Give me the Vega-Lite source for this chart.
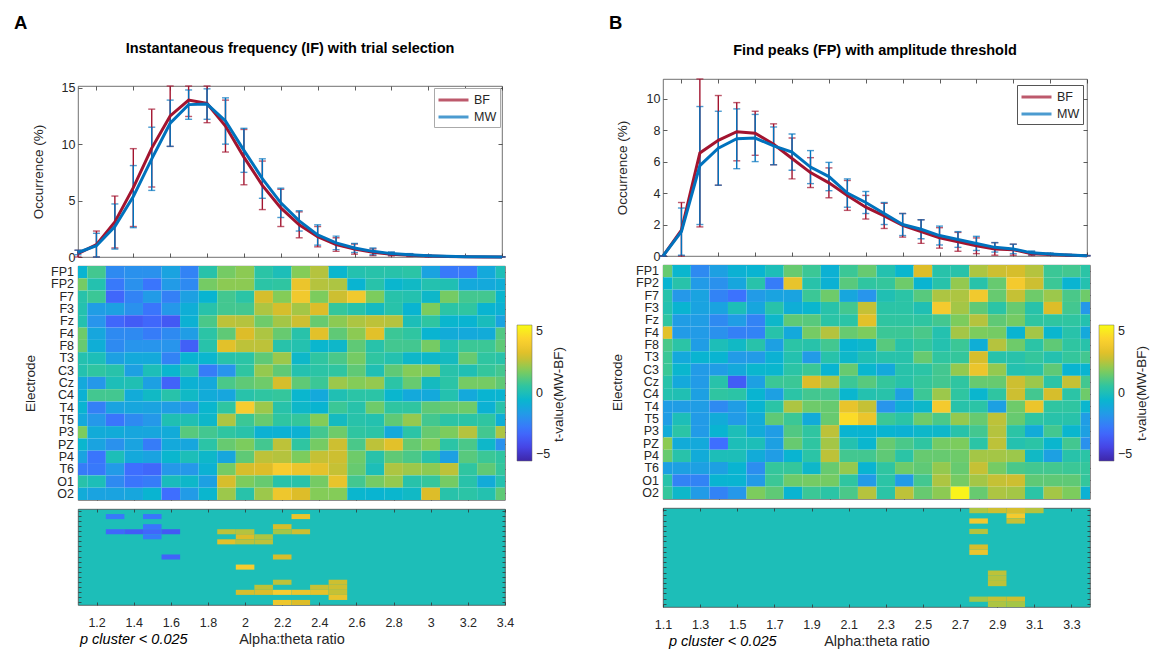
{
"$schema":"https://vega.github.io/schema/vega-lite/v6.json",
"padding":{"left":14,"top":13,"right":2,"bottom":2},
"background":"white",
"datasets":{
"lA":[
{"g":"BF","x":1.1,"m":0.3,"e":0.3},{"g":"BF","x":1.2,"m":1.1,"e":1.2},{"g":"BF","x":1.3,"m":3.1,"e":2.3},{"g":"BF","x":1.4,"m":6.15,"e":3.45},{"g":"BF","x":1.5,"m":9.65,"e":3.45},{"g":"BF","x":1.6,"m":12.5,"e":2.7},{"g":"BF","x":1.7,"m":13.9,"e":1.45},{"g":"BF","x":1.8,"m":13.6,"e":1.7},{"g":"BF","x":1.9,"m":11.6,"e":2.3},{"g":"BF","x":2,"m":8.85,"e":2.45},{"g":"BF","x":2.1,"m":6.35,"e":2.15},{"g":"BF","x":2.2,"m":4.35,"e":1.65},{"g":"BF","x":2.3,"m":2.85,"e":1.15},{"g":"BF","x":2.4,"m":1.8,"e":0.9},{"g":"BF","x":2.5,"m":1.1,"e":0.6},{"g":"BF","x":2.6,"m":0.7,"e":0.45},{"g":"BF","x":2.7,"m":0.42,"e":0.3},{"g":"BF","x":2.8,"m":0.25,"e":0.15},{"g":"BF","x":2.9,"m":0.15,"e":0.1},{"g":"BF","x":3,"m":0.08,"e":0.06},{"g":"BF","x":3.1,"m":0.04,"e":0.03},{"g":"BF","x":3.2,"m":0.02,"e":0.02},{"g":"BF","x":3.3,"m":0.01,"e":0.01},{"g":"BF","x":3.4,"m":0.01,"e":0.01},
{"g":"MW","x":1.1,"m":0.4,"e":0.2},{"g":"MW","x":1.2,"m":1.0,"e":1.1},{"g":"MW","x":1.3,"m":2.7,"e":2.0},{"g":"MW","x":1.4,"m":5.35,"e":2.75},{"g":"MW","x":1.5,"m":8.7,"e":2.8},{"g":"MW","x":1.6,"m":11.85,"e":2.05},{"g":"MW","x":1.7,"m":13.5,"e":1.3},{"g":"MW","x":1.8,"m":13.55,"e":1.35},{"g":"MW","x":1.9,"m":12.05,"e":2.05},{"g":"MW","x":2,"m":9.45,"e":1.95},{"g":"MW","x":2.1,"m":6.95,"e":1.75},{"g":"MW","x":2.2,"m":4.8,"e":1.3},{"g":"MW","x":2.3,"m":3.2,"e":0.9},{"g":"MW","x":2.4,"m":1.95,"e":0.9},{"g":"MW","x":2.5,"m":1.25,"e":0.6},{"g":"MW","x":2.6,"m":0.8,"e":0.4},{"g":"MW","x":2.7,"m":0.5,"e":0.3},{"g":"MW","x":2.8,"m":0.3,"e":0.15},{"g":"MW","x":2.9,"m":0.2,"e":0.1},{"g":"MW","x":3,"m":0.12,"e":0.06},{"g":"MW","x":3.1,"m":0.06,"e":0.04},{"g":"MW","x":3.2,"m":0.03,"e":0.02},{"g":"MW","x":3.3,"m":0.02,"e":0.01},{"g":"MW","x":3.4,"m":0.01,"e":0.01}
],
"lB":[
{"g":"BF","x":1.1,"m":0,"e":0},{"g":"BF","x":1.2,"m":1.65,"e":1.75},{"g":"BF","x":1.3,"m":6.55,"e":4.7},{"g":"BF","x":1.4,"m":7.35,"e":2.85},{"g":"BF","x":1.5,"m":7.9,"e":1.85},{"g":"BF","x":1.6,"m":7.8,"e":1.4},{"g":"BF","x":1.7,"m":7.1,"e":1.3},{"g":"BF","x":1.8,"m":6.2,"e":1.3},{"g":"BF","x":1.9,"m":5.3,"e":0.95},{"g":"BF","x":2,"m":4.65,"e":0.95},{"g":"BF","x":2.1,"m":3.85,"e":0.95},{"g":"BF","x":2.2,"m":3.1,"e":0.75},{"g":"BF","x":2.3,"m":2.55,"e":0.8},{"g":"BF","x":2.4,"m":1.95,"e":0.75},{"g":"BF","x":2.5,"m":1.55,"e":0.75},{"g":"BF","x":2.6,"m":1.15,"e":0.65},{"g":"BF","x":2.7,"m":0.9,"e":0.6},{"g":"BF","x":2.8,"m":0.65,"e":0.5},{"g":"BF","x":2.9,"m":0.45,"e":0.4},{"g":"BF","x":3,"m":0.4,"e":0.35},{"g":"BF","x":3.1,"m":0.15,"e":0.12},{"g":"BF","x":3.2,"m":0.1,"e":0.06},{"g":"BF","x":3.3,"m":0.05,"e":0.04},{"g":"BF","x":3.4,"m":0.02,"e":0.01},
{"g":"MW","x":1.1,"m":0,"e":0},{"g":"MW","x":1.2,"m":1.55,"e":1.5},{"g":"MW","x":1.3,"m":5.75,"e":3.75},{"g":"MW","x":1.4,"m":6.85,"e":2.35},{"g":"MW","x":1.5,"m":7.45,"e":1.9},{"g":"MW","x":1.6,"m":7.5,"e":1.5},{"g":"MW","x":1.7,"m":7.0,"e":1.2},{"g":"MW","x":1.8,"m":6.6,"e":1.15},{"g":"MW","x":1.9,"m":5.65,"e":1.05},{"g":"MW","x":2,"m":5.05,"e":0.9},{"g":"MW","x":2.1,"m":4.0,"e":0.9},{"g":"MW","x":2.2,"m":3.4,"e":0.7},{"g":"MW","x":2.3,"m":2.7,"e":0.7},{"g":"MW","x":2.4,"m":2.0,"e":0.7},{"g":"MW","x":2.5,"m":1.7,"e":0.6},{"g":"MW","x":2.6,"m":1.3,"e":0.6},{"g":"MW","x":2.7,"m":1.05,"e":0.5},{"g":"MW","x":2.8,"m":0.8,"e":0.45},{"g":"MW","x":2.9,"m":0.55,"e":0.3},{"g":"MW","x":3,"m":0.45,"e":0.3},{"g":"MW","x":3.1,"m":0.2,"e":0.12},{"g":"MW","x":3.2,"m":0.12,"e":0.06},{"g":"MW","x":3.3,"m":0.06,"e":0.04},{"g":"MW","x":3.4,"m":0.02,"e":0.01}
],
"hA":[
{"e":"FP1","x":1.1,"t":-0.6},{"e":"FP1","x":1.2,"t":0.8},{"e":"FP1","x":1.3,"t":-2},{"e":"FP1","x":1.4,"t":-1.8},{"e":"FP1","x":1.5,"t":-1.8},{"e":"FP1","x":1.6,"t":-1.2},{"e":"FP1","x":1.7,"t":-2.2},{"e":"FP1","x":1.8,"t":0.3},{"e":"FP1","x":1.9,"t":1.5},{"e":"FP1","x":2,"t":1.8},{"e":"FP1","x":2.1,"t":0.4},{"e":"FP1","x":2.2,"t":0},{"e":"FP1","x":2.3,"t":1.7},{"e":"FP1","x":2.4,"t":2.3},{"e":"FP1","x":2.5,"t":-0.5},{"e":"FP1","x":2.6,"t":0.2},{"e":"FP1","x":2.7,"t":0.3},{"e":"FP1","x":2.8,"t":0.3},{"e":"FP1","x":2.9,"t":0.4},{"e":"FP1","x":3,"t":-1.2},{"e":"FP1","x":3.1,"t":-2.5},{"e":"FP1","x":3.2,"t":-2.5},{"e":"FP1","x":3.3,"t":-1},{"e":"FP1","x":3.4,"t":0},
{"e":"FP2","x":1.1,"t":1.5},{"e":"FP2","x":1.2,"t":0.2},{"e":"FP2","x":1.3,"t":-2.5,"s":1},{"e":"FP2","x":1.4,"t":-1.8},{"e":"FP2","x":1.5,"t":-2.6,"s":1},{"e":"FP2","x":1.6,"t":-1.5},{"e":"FP2","x":1.7,"t":-2},{"e":"FP2","x":1.8,"t":1.5},{"e":"FP2","x":1.9,"t":1.8},{"e":"FP2","x":2,"t":1.8},{"e":"FP2","x":2.1,"t":0.4},{"e":"FP2","x":2.2,"t":0.5},{"e":"FP2","x":2.3,"t":3.3,"s":1},{"e":"FP2","x":2.4,"t":2.3},{"e":"FP2","x":2.5,"t":2.2},{"e":"FP2","x":2.6,"t":-0.6},{"e":"FP2","x":2.7,"t":0.3},{"e":"FP2","x":2.8,"t":-0.5},{"e":"FP2","x":2.9,"t":-0.3},{"e":"FP2","x":3,"t":0.2},{"e":"FP2","x":3.1,"t":0.1},{"e":"FP2","x":3.2,"t":-1},{"e":"FP2","x":3.3,"t":-1},{"e":"FP2","x":3.4,"t":-0.8},
{"e":"F7","x":1.1,"t":0.3},{"e":"F7","x":1.2,"t":0.7},{"e":"F7","x":1.3,"t":-3},{"e":"F7","x":1.4,"t":-2.2},{"e":"F7","x":1.5,"t":-1.5},{"e":"F7","x":1.6,"t":-2.3},{"e":"F7","x":1.7,"t":-1.3},{"e":"F7","x":1.8,"t":-0.6},{"e":"F7","x":1.9,"t":0.8},{"e":"F7","x":2,"t":0.4},{"e":"F7","x":2.1,"t":2.7},{"e":"F7","x":2.2,"t":1.7},{"e":"F7","x":2.3,"t":3.5},{"e":"F7","x":2.4,"t":1.6},{"e":"F7","x":2.5,"t":2.6},{"e":"F7","x":2.6,"t":3.5},{"e":"F7","x":2.7,"t":1.6},{"e":"F7","x":2.8,"t":0.3},{"e":"F7","x":2.9,"t":0.2},{"e":"F7","x":3,"t":-0.4},{"e":"F7","x":3.1,"t":1.5},{"e":"F7","x":3.2,"t":0.8},{"e":"F7","x":3.3,"t":0.8},{"e":"F7","x":3.4,"t":-0.5},
{"e":"F3","x":1.1,"t":0.2},{"e":"F3","x":1.2,"t":-1.4},{"e":"F3","x":1.3,"t":-1.3},{"e":"F3","x":1.4,"t":-1.8},{"e":"F3","x":1.5,"t":-2.6,"s":1},{"e":"F3","x":1.6,"t":-1.6},{"e":"F3","x":1.7,"t":-0.8},{"e":"F3","x":1.8,"t":0.3},{"e":"F3","x":1.9,"t":0.8},{"e":"F3","x":2,"t":0.8},{"e":"F3","x":2.1,"t":2.2},{"e":"F3","x":2.2,"t":2.7,"s":1},{"e":"F3","x":2.3,"t":2.1},{"e":"F3","x":2.4,"t":2.8},{"e":"F3","x":2.5,"t":0.6},{"e":"F3","x":2.6,"t":0.3},{"e":"F3","x":2.7,"t":-0.2},{"e":"F3","x":2.8,"t":0.3},{"e":"F3","x":2.9,"t":-0.6},{"e":"F3","x":3,"t":1.6},{"e":"F3","x":3.1,"t":0.4},{"e":"F3","x":3.2,"t":0.5},{"e":"F3","x":3.3,"t":-0.6},{"e":"F3","x":3.4,"t":-0.7},
{"e":"Fz","x":1.1,"t":0.2},{"e":"Fz","x":1.2,"t":-1.7},{"e":"Fz","x":1.3,"t":-3,"s":1},{"e":"Fz","x":1.4,"t":-3.3,"s":1},{"e":"Fz","x":1.5,"t":-3,"s":1},{"e":"Fz","x":1.6,"t":-3.4,"s":1},{"e":"Fz","x":1.7,"t":-0.7},{"e":"Fz","x":1.8,"t":0.9},{"e":"Fz","x":1.9,"t":2.4,"s":1},{"e":"Fz","x":2,"t":2.3,"s":1},{"e":"Fz","x":2.1,"t":1.4},{"e":"Fz","x":2.2,"t":2.1,"s":1},{"e":"Fz","x":2.3,"t":2.6,"s":1},{"e":"Fz","x":2.4,"t":1.3},{"e":"Fz","x":2.5,"t":1.8},{"e":"Fz","x":2.6,"t":2.2},{"e":"Fz","x":2.7,"t":2.4},{"e":"Fz","x":2.8,"t":2.3},{"e":"Fz","x":2.9,"t":0},{"e":"Fz","x":3,"t":0.5},{"e":"Fz","x":3.1,"t":-0.5},{"e":"Fz","x":3.2,"t":-0.6},{"e":"Fz","x":3.3,"t":-0.1},{"e":"Fz","x":3.4,"t":-1.2},
{"e":"F4","x":1.1,"t":1.4},{"e":"F4","x":1.2,"t":-1.1},{"e":"F4","x":1.3,"t":-2},{"e":"F4","x":1.4,"t":-2},{"e":"F4","x":1.5,"t":-2.4,"s":1},{"e":"F4","x":1.6,"t":-2},{"e":"F4","x":1.7,"t":-1.4},{"e":"F4","x":1.8,"t":0.4},{"e":"F4","x":1.9,"t":1.2},{"e":"F4","x":2,"t":2.8,"s":1},{"e":"F4","x":2.1,"t":2.2,"s":1},{"e":"F4","x":2.2,"t":1.3},{"e":"F4","x":2.3,"t":0.3},{"e":"F4","x":2.4,"t":3},{"e":"F4","x":2.5,"t":1.2},{"e":"F4","x":2.6,"t":1.8},{"e":"F4","x":2.7,"t":3},{"e":"F4","x":2.8,"t":0.7},{"e":"F4","x":2.9,"t":0.5},{"e":"F4","x":3,"t":-0.6},{"e":"F4","x":3.1,"t":-0.9},{"e":"F4","x":3.2,"t":-1},{"e":"F4","x":3.3,"t":-0.9},{"e":"F4","x":3.4,"t":1},
{"e":"F8","x":1.1,"t":1.3},{"e":"F8","x":1.2,"t":-0.8},{"e":"F8","x":1.3,"t":-2},{"e":"F8","x":1.4,"t":-1.7},{"e":"F8","x":1.5,"t":-1.7},{"e":"F8","x":1.6,"t":-1.7},{"e":"F8","x":1.7,"t":-3.2},{"e":"F8","x":1.8,"t":0.3},{"e":"F8","x":1.9,"t":3,"s":1},{"e":"F8","x":2,"t":2.4,"s":1},{"e":"F8","x":2.1,"t":2.4,"s":1},{"e":"F8","x":2.2,"t":0.3},{"e":"F8","x":2.3,"t":0.2},{"e":"F8","x":2.4,"t":-0.5},{"e":"F8","x":2.5,"t":-0.4},{"e":"F8","x":2.6,"t":1.2},{"e":"F8","x":2.7,"t":0.3},{"e":"F8","x":2.8,"t":0.8},{"e":"F8","x":2.9,"t":0.8},{"e":"F8","x":3,"t":1.5},{"e":"F8","x":3.1,"t":0.2},{"e":"F8","x":3.2,"t":0.7},{"e":"F8","x":3.3,"t":0.7},{"e":"F8","x":3.4,"t":1.2},
{"e":"T3","x":1.1,"t":0.2},{"e":"T3","x":1.2,"t":0},{"e":"T3","x":1.3,"t":-1.3},{"e":"T3","x":1.4,"t":-1},{"e":"T3","x":1.5,"t":-1},{"e":"T3","x":1.6,"t":-2.2},{"e":"T3","x":1.7,"t":-0.6},{"e":"T3","x":1.8,"t":-0.5},{"e":"T3","x":1.9,"t":0.3},{"e":"T3","x":2,"t":0.4},{"e":"T3","x":2.1,"t":1.2},{"e":"T3","x":2.2,"t":2},{"e":"T3","x":2.3,"t":-0.4},{"e":"T3","x":2.4,"t":0.5},{"e":"T3","x":2.5,"t":0.9},{"e":"T3","x":2.6,"t":1.5},{"e":"T3","x":2.7,"t":0.5},{"e":"T3","x":2.8,"t":0.2},{"e":"T3","x":2.9,"t":-0.4},{"e":"T3","x":3,"t":-0.4},{"e":"T3","x":3.1,"t":-0.2},{"e":"T3","x":3.2,"t":1.3},{"e":"T3","x":3.3,"t":0.5},{"e":"T3","x":3.4,"t":0.3},
{"e":"C3","x":1.1,"t":0.2},{"e":"C3","x":1.2,"t":0.5},{"e":"C3","x":1.3,"t":0.3},{"e":"C3","x":1.4,"t":-1.3},{"e":"C3","x":1.5,"t":0},{"e":"C3","x":1.6,"t":-0.5},{"e":"C3","x":1.7,"t":0.2},{"e":"C3","x":1.8,"t":-2.4},{"e":"C3","x":1.9,"t":-1.7},{"e":"C3","x":2,"t":0.5},{"e":"C3","x":2.1,"t":1.9},{"e":"C3","x":2.2,"t":1.2},{"e":"C3","x":2.3,"t":0.2},{"e":"C3","x":2.4,"t":0.4},{"e":"C3","x":2.5,"t":0.5},{"e":"C3","x":2.6,"t":1.2},{"e":"C3","x":2.7,"t":0.1},{"e":"C3","x":2.8,"t":1.2},{"e":"C3","x":2.9,"t":1.7},{"e":"C3","x":3,"t":1.7},{"e":"C3","x":3.1,"t":0.3},{"e":"C3","x":3.2,"t":0.1},{"e":"C3","x":3.3,"t":0.6},{"e":"C3","x":3.4,"t":0.8},
{"e":"Cz","x":1.1,"t":-1},{"e":"Cz","x":1.2,"t":-1.6},{"e":"Cz","x":1.3,"t":0},{"e":"Cz","x":1.4,"t":0.1},{"e":"Cz","x":1.5,"t":-1.3},{"e":"Cz","x":1.6,"t":-3.1,"s":1},{"e":"Cz","x":1.7,"t":-0.7},{"e":"Cz","x":1.8,"t":-1},{"e":"Cz","x":1.9,"t":0.9},{"e":"Cz","x":2,"t":1.2},{"e":"Cz","x":2.1,"t":1.4},{"e":"Cz","x":2.2,"t":2.7,"s":1},{"e":"Cz","x":2.3,"t":1.2},{"e":"Cz","x":2.4,"t":0.7},{"e":"Cz","x":2.5,"t":2},{"e":"Cz","x":2.6,"t":1.7},{"e":"Cz","x":2.7,"t":1.9},{"e":"Cz","x":2.8,"t":0.4},{"e":"Cz","x":2.9,"t":1.3},{"e":"Cz","x":3,"t":-0.2},{"e":"Cz","x":3.1,"t":0.4},{"e":"Cz","x":3.2,"t":1.5},{"e":"Cz","x":3.3,"t":1.5},{"e":"Cz","x":3.4,"t":1.2},
{"e":"C4","x":1.1,"t":-0.7},{"e":"C4","x":1.2,"t":0.8},{"e":"C4","x":1.3,"t":0.8},{"e":"C4","x":1.4,"t":-0.9},{"e":"C4","x":1.5,"t":-0.3},{"e":"C4","x":1.6,"t":0.3},{"e":"C4","x":1.7,"t":-0.3},{"e":"C4","x":1.8,"t":-0.9},{"e":"C4","x":1.9,"t":-1.1},{"e":"C4","x":2,"t":0.3},{"e":"C4","x":2.1,"t":0.5},{"e":"C4","x":2.2,"t":0.6},{"e":"C4","x":2.3,"t":-0.5},{"e":"C4","x":2.4,"t":-1},{"e":"C4","x":2.5,"t":0.1},{"e":"C4","x":2.6,"t":0.4},{"e":"C4","x":2.7,"t":0.4},{"e":"C4","x":2.8,"t":-0.5},{"e":"C4","x":2.9,"t":-1},{"e":"C4","x":3,"t":-1},{"e":"C4","x":3.1,"t":0.2},{"e":"C4","x":3.2,"t":-1},{"e":"C4","x":3.3,"t":-0.6},{"e":"C4","x":3.4,"t":-0.6},
{"e":"T4","x":1.1,"t":-0.6},{"e":"T4","x":1.2,"t":-2.3},{"e":"T4","x":1.3,"t":-1.2},{"e":"T4","x":1.4,"t":-1.1},{"e":"T4","x":1.5,"t":-1.2},{"e":"T4","x":1.6,"t":-1.4},{"e":"T4","x":1.7,"t":-1.7},{"e":"T4","x":1.8,"t":-0.5},{"e":"T4","x":1.9,"t":0.5},{"e":"T4","x":2,"t":3.7,"s":1},{"e":"T4","x":2.1,"t":2},{"e":"T4","x":2.2,"t":0.3},{"e":"T4","x":2.3,"t":-0.4},{"e":"T4","x":2.4,"t":-0.6},{"e":"T4","x":2.5,"t":0.7},{"e":"T4","x":2.6,"t":0.3},{"e":"T4","x":2.7,"t":1.4},{"e":"T4","x":2.8,"t":0.5},{"e":"T4","x":2.9,"t":0.5},{"e":"T4","x":3,"t":1.2},{"e":"T4","x":3.1,"t":1.3},{"e":"T4","x":3.2,"t":1.4},{"e":"T4","x":3.3,"t":-0.7},{"e":"T4","x":3.4,"t":0.3},
{"e":"T5","x":1.1,"t":-1},{"e":"T5","x":1.2,"t":-1.6},{"e":"T5","x":1.3,"t":-2.6},{"e":"T5","x":1.4,"t":-2},{"e":"T5","x":1.5,"t":-1.6},{"e":"T5","x":1.6,"t":0.1},{"e":"T5","x":1.7,"t":0.1},{"e":"T5","x":1.8,"t":-0.4},{"e":"T5","x":1.9,"t":2.2},{"e":"T5","x":2,"t":0.7},{"e":"T5","x":2.1,"t":1.3},{"e":"T5","x":2.2,"t":0.5},{"e":"T5","x":2.3,"t":0.6},{"e":"T5","x":2.4,"t":1.7},{"e":"T5","x":2.5,"t":-0.2},{"e":"T5","x":2.6,"t":0.3},{"e":"T5","x":2.7,"t":0.2},{"e":"T5","x":2.8,"t":1.2},{"e":"T5","x":2.9,"t":1.9},{"e":"T5","x":3,"t":0.8},{"e":"T5","x":3.1,"t":0.4},{"e":"T5","x":3.2,"t":0.4},{"e":"T5","x":3.3,"t":0.5},{"e":"T5","x":3.4,"t":-0.8},
{"e":"P3","x":1.1,"t":1.6},{"e":"P3","x":1.2,"t":-0.9},{"e":"P3","x":1.3,"t":-0.9},{"e":"P3","x":1.4,"t":-1.1},{"e":"P3","x":1.5,"t":-1.1},{"e":"P3","x":1.6,"t":-0.9},{"e":"P3","x":1.7,"t":1.1},{"e":"P3","x":1.8,"t":0.8},{"e":"P3","x":1.9,"t":0.5},{"e":"P3","x":2,"t":0.3},{"e":"P3","x":2.1,"t":-0.7},{"e":"P3","x":2.2,"t":-0.7},{"e":"P3","x":2.3,"t":-0.7},{"e":"P3","x":2.4,"t":0.8},{"e":"P3","x":2.5,"t":1.4},{"e":"P3","x":2.6,"t":0.5},{"e":"P3","x":2.7,"t":0.4},{"e":"P3","x":2.8,"t":-1},{"e":"P3","x":2.9,"t":0.4},{"e":"P3","x":3,"t":1.3},{"e":"P3","x":3.1,"t":1.6},{"e":"P3","x":3.2,"t":2.3},{"e":"P3","x":3.3,"t":0.8},{"e":"P3","x":3.4,"t":2.2},
{"e":"PZ","x":1.1,"t":-0.5},{"e":"PZ","x":1.2,"t":-1.2},{"e":"PZ","x":1.3,"t":-1.8},{"e":"PZ","x":1.4,"t":-1.2},{"e":"PZ","x":1.5,"t":-2.4},{"e":"PZ","x":1.6,"t":-1},{"e":"PZ","x":1.7,"t":-1.1},{"e":"PZ","x":1.8,"t":0.4},{"e":"PZ","x":1.9,"t":1.3},{"e":"PZ","x":2,"t":1.6},{"e":"PZ","x":2.1,"t":0.8},{"e":"PZ","x":2.2,"t":2.4,"s":1},{"e":"PZ","x":2.3,"t":0.5},{"e":"PZ","x":2.4,"t":1.5},{"e":"PZ","x":2.5,"t":2.6,"s":1},{"e":"PZ","x":2.6,"t":0.9},{"e":"PZ","x":2.7,"t":2.4},{"e":"PZ","x":2.8,"t":3},{"e":"PZ","x":2.9,"t":1.3},{"e":"PZ","x":3,"t":1.7},{"e":"PZ","x":3.1,"t":0.4},{"e":"PZ","x":3.2,"t":0.9},{"e":"PZ","x":3.3,"t":-0.4},{"e":"PZ","x":3.4,"t":-1.8},
{"e":"P4","x":1.1,"t":-1.2},{"e":"P4","x":1.2,"t":-2.6},{"e":"P4","x":1.3,"t":0},{"e":"P4","x":1.4,"t":-1},{"e":"P4","x":1.5,"t":-1.2},{"e":"P4","x":1.6,"t":-0.5},{"e":"P4","x":1.7,"t":0},{"e":"P4","x":1.8,"t":-0.4},{"e":"P4","x":1.9,"t":-1.1},{"e":"P4","x":2,"t":1.2},{"e":"P4","x":2.1,"t":2.4,"s":1},{"e":"P4","x":2.2,"t":2.3},{"e":"P4","x":2.3,"t":1.6},{"e":"P4","x":2.4,"t":2.5,"s":1},{"e":"P4","x":2.5,"t":2.6,"s":1},{"e":"P4","x":2.6,"t":1.4},{"e":"P4","x":2.7,"t":0.3},{"e":"P4","x":2.8,"t":1.2},{"e":"P4","x":2.9,"t":0.9},{"e":"P4","x":3,"t":0.3},{"e":"P4","x":3.1,"t":-1.3},{"e":"P4","x":3.2,"t":1.1},{"e":"P4","x":3.3,"t":0.7},{"e":"P4","x":3.4,"t":0.5},
{"e":"T6","x":1.1,"t":-2.4},{"e":"T6","x":1.2,"t":-2.5},{"e":"T6","x":1.3,"t":-1.5},{"e":"T6","x":1.4,"t":-2.8},{"e":"T6","x":1.5,"t":-3},{"e":"T6","x":1.6,"t":-1.6},{"e":"T6","x":1.7,"t":-1.6},{"e":"T6","x":1.8,"t":-0.7},{"e":"T6","x":1.9,"t":1.5},{"e":"T6","x":2,"t":2.7,"s":1},{"e":"T6","x":2.1,"t":2.8,"s":1},{"e":"T6","x":2.2,"t":3.7,"s":1},{"e":"T6","x":2.3,"t":3.3,"s":1},{"e":"T6","x":2.4,"t":3.1,"s":1},{"e":"T6","x":2.5,"t":2.5,"s":1},{"e":"T6","x":2.6,"t":1.3},{"e":"T6","x":2.7,"t":0},{"e":"T6","x":2.8,"t":2.2},{"e":"T6","x":2.9,"t":2},{"e":"T6","x":3,"t":1.8},{"e":"T6","x":3.1,"t":2.4},{"e":"T6","x":3.2,"t":0.5},{"e":"T6","x":3.3,"t":1.2},{"e":"T6","x":3.4,"t":0.6},
{"e":"O1","x":1.1,"t":0.3},{"e":"O1","x":1.2,"t":0},{"e":"O1","x":1.3,"t":-2},{"e":"O1","x":1.4,"t":-2.6},{"e":"O1","x":1.5,"t":-2.4},{"e":"O1","x":1.6,"t":-0.1},{"e":"O1","x":1.7,"t":-0.4},{"e":"O1","x":1.8,"t":-1.3},{"e":"O1","x":1.9,"t":2.7},{"e":"O1","x":2,"t":1.6},{"e":"O1","x":2.1,"t":1.3},{"e":"O1","x":2.2,"t":0.3},{"e":"O1","x":2.3,"t":0.3},{"e":"O1","x":2.4,"t":1.5},{"e":"O1","x":2.5,"t":3.2,"s":1},{"e":"O1","x":2.6,"t":0.8},{"e":"O1","x":2.7,"t":1.5},{"e":"O1","x":2.8,"t":1.9},{"e":"O1","x":2.9,"t":0.3},{"e":"O1","x":3,"t":0.6},{"e":"O1","x":3.1,"t":1.5},{"e":"O1","x":3.2,"t":0.3},{"e":"O1","x":3.3,"t":-0.9},{"e":"O1","x":3.4,"t":0.2},
{"e":"O2","x":1.1,"t":-0.9},{"e":"O2","x":1.2,"t":-1.2},{"e":"O2","x":1.3,"t":-1.2},{"e":"O2","x":1.4,"t":-1.1},{"e":"O2","x":1.5,"t":-0.6},{"e":"O2","x":1.6,"t":-2.8},{"e":"O2","x":1.7,"t":-1.5},{"e":"O2","x":1.8,"t":-0.5},{"e":"O2","x":1.9,"t":2},{"e":"O2","x":2,"t":0.3},{"e":"O2","x":2.1,"t":2},{"e":"O2","x":2.2,"t":3.4,"s":1},{"e":"O2","x":2.3,"t":2.8,"s":1},{"e":"O2","x":2.4,"t":1.7},{"e":"O2","x":2.5,"t":1.7},{"e":"O2","x":2.6,"t":-0.5},{"e":"O2","x":2.7,"t":-0.6},{"e":"O2","x":2.8,"t":-0.5},{"e":"O2","x":2.9,"t":-0.3},{"e":"O2","x":3,"t":2.8},{"e":"O2","x":3.1,"t":0.3},{"e":"O2","x":3.2,"t":0.4},{"e":"O2","x":3.3,"t":0.2},{"e":"O2","x":3.4,"t":1.2}
],
"hB":[
{"e":"FP1","x":1.1,"t":1.3},{"e":"FP1","x":1.2,"t":-0.5},{"e":"FP1","x":1.3,"t":-2},{"e":"FP1","x":1.4,"t":-1.3},{"e":"FP1","x":1.5,"t":-0.7},{"e":"FP1","x":1.6,"t":-0.6},{"e":"FP1","x":1.7,"t":0},{"e":"FP1","x":1.8,"t":1.3},{"e":"FP1","x":1.9,"t":0.7},{"e":"FP1","x":2,"t":-0.7},{"e":"FP1","x":2.1,"t":0.7},{"e":"FP1","x":2.2,"t":1.3},{"e":"FP1","x":2.3,"t":0.2},{"e":"FP1","x":2.4,"t":-0.5},{"e":"FP1","x":2.5,"t":2.8},{"e":"FP1","x":2.6,"t":0.3},{"e":"FP1","x":2.7,"t":0.3},{"e":"FP1","x":2.8,"t":2.2,"s":1},{"e":"FP1","x":2.9,"t":2.6,"s":1},{"e":"FP1","x":3,"t":2.7,"s":1},{"e":"FP1","x":3.1,"t":2.3,"s":1},{"e":"FP1","x":3.2,"t":0.7},{"e":"FP1","x":3.3,"t":0.8},{"e":"FP1","x":3.4,"t":0.4},
{"e":"FP2","x":1.1,"t":-0.6},{"e":"FP2","x":1.2,"t":0.3},{"e":"FP2","x":1.3,"t":-1.5},{"e":"FP2","x":1.4,"t":-1.8},{"e":"FP2","x":1.5,"t":-1.1},{"e":"FP2","x":1.6,"t":0.3},{"e":"FP2","x":1.7,"t":-2.4},{"e":"FP2","x":1.8,"t":3.2},{"e":"FP2","x":1.9,"t":0.3},{"e":"FP2","x":2,"t":-0.7},{"e":"FP2","x":2.1,"t":1.1},{"e":"FP2","x":2.2,"t":0.5},{"e":"FP2","x":2.3,"t":0.6},{"e":"FP2","x":2.4,"t":1.4},{"e":"FP2","x":2.5,"t":-0.6},{"e":"FP2","x":2.6,"t":0.3},{"e":"FP2","x":2.7,"t":1.9},{"e":"FP2","x":2.8,"t":0.3},{"e":"FP2","x":2.9,"t":1.3},{"e":"FP2","x":3,"t":3.6,"s":1},{"e":"FP2","x":3.1,"t":2.6},{"e":"FP2","x":3.2,"t":0.7},{"e":"FP2","x":3.3,"t":-0.6},{"e":"FP2","x":3.4,"t":0.2},
{"e":"F7","x":1.1,"t":0.3},{"e":"F7","x":1.2,"t":-1.6},{"e":"F7","x":1.3,"t":-1.2},{"e":"F7","x":1.4,"t":-2.2},{"e":"F7","x":1.5,"t":-2.7},{"e":"F7","x":1.6,"t":-1.5},{"e":"F7","x":1.7,"t":-1.2},{"e":"F7","x":1.8,"t":-1.2},{"e":"F7","x":1.9,"t":0.7},{"e":"F7","x":2,"t":1.4},{"e":"F7","x":2.1,"t":-1.1},{"e":"F7","x":2.2,"t":-1.7},{"e":"F7","x":2.3,"t":0.1},{"e":"F7","x":2.4,"t":0.4},{"e":"F7","x":2.5,"t":1.1},{"e":"F7","x":2.6,"t":2.2},{"e":"F7","x":2.7,"t":2.2},{"e":"F7","x":2.8,"t":3.5,"s":1},{"e":"F7","x":2.9,"t":1.3},{"e":"F7","x":3,"t":2.5,"s":1},{"e":"F7","x":3.1,"t":1.4},{"e":"F7","x":3.2,"t":2},{"e":"F7","x":3.3,"t":0.9},{"e":"F7","x":3.4,"t":1.4},
{"e":"F3","x":1.1,"t":0.2},{"e":"F3","x":1.2,"t":-0.6},{"e":"F3","x":1.3,"t":-1.2},{"e":"F3","x":1.4,"t":-1.2},{"e":"F3","x":1.5,"t":0},{"e":"F3","x":1.6,"t":-1.1},{"e":"F3","x":1.7,"t":0.3},{"e":"F3","x":1.8,"t":-0.8},{"e":"F3","x":1.9,"t":-0.5},{"e":"F3","x":2,"t":0.3},{"e":"F3","x":2.1,"t":0.8},{"e":"F3","x":2.2,"t":2.5},{"e":"F3","x":2.3,"t":0.4},{"e":"F3","x":2.4,"t":0.4},{"e":"F3","x":2.5,"t":0.1},{"e":"F3","x":2.6,"t":3.6},{"e":"F3","x":2.7,"t":2.1},{"e":"F3","x":2.8,"t":1.2},{"e":"F3","x":2.9,"t":0.4},{"e":"F3","x":3,"t":1.3},{"e":"F3","x":3.1,"t":0.3},{"e":"F3","x":3.2,"t":2.8},{"e":"F3","x":3.3,"t":0.8},{"e":"F3","x":3.4,"t":-1.6},
{"e":"Fz","x":1.1,"t":0.5},{"e":"Fz","x":1.2,"t":-1.4},{"e":"Fz","x":1.3,"t":-1.4},{"e":"Fz","x":1.4,"t":-2},{"e":"Fz","x":1.5,"t":-1.4},{"e":"Fz","x":1.6,"t":-2.2},{"e":"Fz","x":1.7,"t":-0.4},{"e":"Fz","x":1.8,"t":1.2},{"e":"Fz","x":1.9,"t":1.1},{"e":"Fz","x":2,"t":0.4},{"e":"Fz","x":2.1,"t":0.4},{"e":"Fz","x":2.2,"t":3},{"e":"Fz","x":2.3,"t":0.5},{"e":"Fz","x":2.4,"t":0.5},{"e":"Fz","x":2.5,"t":0.5},{"e":"Fz","x":2.6,"t":0.8},{"e":"Fz","x":2.7,"t":1.6},{"e":"Fz","x":2.8,"t":2.3,"s":1},{"e":"Fz","x":2.9,"t":1.2},{"e":"Fz","x":3,"t":1.5},{"e":"Fz","x":3.1,"t":0.5},{"e":"Fz","x":3.2,"t":0.5},{"e":"Fz","x":3.3,"t":0.5},{"e":"Fz","x":3.4,"t":0.2},
{"e":"F4","x":1.1,"t":3},{"e":"F4","x":1.2,"t":-1.5},{"e":"F4","x":1.3,"t":-1.5},{"e":"F4","x":1.4,"t":-1.8},{"e":"F4","x":1.5,"t":-2.3},{"e":"F4","x":1.6,"t":-2.2},{"e":"F4","x":1.7,"t":0.3},{"e":"F4","x":1.8,"t":-1},{"e":"F4","x":1.9,"t":1.5},{"e":"F4","x":2,"t":2.3},{"e":"F4","x":2.1,"t":1.3},{"e":"F4","x":2.2,"t":1.6},{"e":"F4","x":2.3,"t":0.7},{"e":"F4","x":2.4,"t":0.7},{"e":"F4","x":2.5,"t":0.9},{"e":"F4","x":2.6,"t":0.2},{"e":"F4","x":2.7,"t":2.1},{"e":"F4","x":2.8,"t":1.6},{"e":"F4","x":2.9,"t":1.5},{"e":"F4","x":3,"t":-0.6},{"e":"F4","x":3.1,"t":2.1},{"e":"F4","x":3.2,"t":-0.5},{"e":"F4","x":3.3,"t":0.3},{"e":"F4","x":3.4,"t":-1},
{"e":"F8","x":1.1,"t":0.9},{"e":"F8","x":1.2,"t":0.4},{"e":"F8","x":1.3,"t":-1.4},{"e":"F8","x":1.4,"t":0},{"e":"F8","x":1.5,"t":-0.3},{"e":"F8","x":1.6,"t":0.3},{"e":"F8","x":1.7,"t":-1.3},{"e":"F8","x":1.8,"t":0.4},{"e":"F8","x":1.9,"t":0.3},{"e":"F8","x":2,"t":0.8},{"e":"F8","x":2.1,"t":-0.6},{"e":"F8","x":2.2,"t":-0.4},{"e":"F8","x":2.3,"t":1.1},{"e":"F8","x":2.4,"t":0.3},{"e":"F8","x":2.5,"t":0.6},{"e":"F8","x":2.6,"t":0.2},{"e":"F8","x":2.7,"t":0.7},{"e":"F8","x":2.8,"t":-0.8},{"e":"F8","x":2.9,"t":2.3},{"e":"F8","x":3,"t":1.4},{"e":"F8","x":3.1,"t":0.4},{"e":"F8","x":3.2,"t":1.2},{"e":"F8","x":3.3,"t":0.5},{"e":"F8","x":3.4,"t":0.3},
{"e":"T3","x":1.1,"t":0.7},{"e":"T3","x":1.2,"t":-1},{"e":"T3","x":1.3,"t":-0.6},{"e":"T3","x":1.4,"t":-0.6},{"e":"T3","x":1.5,"t":-1.5},{"e":"T3","x":1.6,"t":-1.5},{"e":"T3","x":1.7,"t":-0.7},{"e":"T3","x":1.8,"t":0.2},{"e":"T3","x":1.9,"t":-1.5},{"e":"T3","x":2,"t":0.3},{"e":"T3","x":2.1,"t":-0.4},{"e":"T3","x":2.2,"t":0.1},{"e":"T3","x":2.3,"t":0.3},{"e":"T3","x":2.4,"t":0.3},{"e":"T3","x":2.5,"t":1.3},{"e":"T3","x":2.6,"t":0.5},{"e":"T3","x":2.7,"t":0.6},{"e":"T3","x":2.8,"t":2.7,"s":1},{"e":"T3","x":2.9,"t":0.3},{"e":"T3","x":3,"t":0.3},{"e":"T3","x":3.1,"t":0.6},{"e":"T3","x":3.2,"t":0.2},{"e":"T3","x":3.3,"t":0.6},{"e":"T3","x":3.4,"t":0.8},
{"e":"C3","x":1.1,"t":0.7},{"e":"C3","x":1.2,"t":-0.5},{"e":"C3","x":1.3,"t":-1.5},{"e":"C3","x":1.4,"t":-1.4},{"e":"C3","x":1.5,"t":-1},{"e":"C3","x":1.6,"t":-0.5},{"e":"C3","x":1.7,"t":-0.5},{"e":"C3","x":1.8,"t":0.4},{"e":"C3","x":1.9,"t":0.7},{"e":"C3","x":2,"t":-0.6},{"e":"C3","x":2.1,"t":1.3},{"e":"C3","x":2.2,"t":-0.5},{"e":"C3","x":2.3,"t":-1},{"e":"C3","x":2.4,"t":0.3},{"e":"C3","x":2.5,"t":0.4},{"e":"C3","x":2.6,"t":0.8},{"e":"C3","x":2.7,"t":1.9},{"e":"C3","x":2.8,"t":3.3,"s":1},{"e":"C3","x":2.9,"t":1.9},{"e":"C3","x":3,"t":0.2},{"e":"C3","x":3.1,"t":0.3},{"e":"C3","x":3.2,"t":1.2},{"e":"C3","x":3.3,"t":-0.6},{"e":"C3","x":3.4,"t":-0.6},
{"e":"Cz","x":1.1,"t":0.3},{"e":"Cz","x":1.2,"t":-1},{"e":"Cz","x":1.3,"t":-1.5},{"e":"Cz","x":1.4,"t":0.3},{"e":"Cz","x":1.5,"t":-3.3},{"e":"Cz","x":1.6,"t":-1.3},{"e":"Cz","x":1.7,"t":0.7},{"e":"Cz","x":1.8,"t":0.7},{"e":"Cz","x":1.9,"t":2.8},{"e":"Cz","x":2,"t":2.2},{"e":"Cz","x":2.1,"t":0.7},{"e":"Cz","x":2.2,"t":1.1},{"e":"Cz","x":2.3,"t":0.6},{"e":"Cz","x":2.4,"t":0.3},{"e":"Cz","x":2.5,"t":0.6},{"e":"Cz","x":2.6,"t":0.8},{"e":"Cz","x":2.7,"t":0.5},{"e":"Cz","x":2.8,"t":1.3},{"e":"Cz","x":2.9,"t":1.3},{"e":"Cz","x":3,"t":2.6},{"e":"Cz","x":3.1,"t":2},{"e":"Cz","x":3.2,"t":0.4},{"e":"Cz","x":3.3,"t":2.5},{"e":"Cz","x":3.4,"t":0.8},
{"e":"C4","x":1.1,"t":0.2},{"e":"C4","x":1.2,"t":0.1},{"e":"C4","x":1.3,"t":-1.3},{"e":"C4","x":1.4,"t":0.5},{"e":"C4","x":1.5,"t":0.4},{"e":"C4","x":1.6,"t":-0.6},{"e":"C4","x":1.7,"t":-1.3},{"e":"C4","x":1.8,"t":0.4},{"e":"C4","x":1.9,"t":0.8},{"e":"C4","x":2,"t":0.8},{"e":"C4","x":2.1,"t":-0.5},{"e":"C4","x":2.2,"t":0.2},{"e":"C4","x":2.3,"t":0.3},{"e":"C4","x":2.4,"t":-1.3},{"e":"C4","x":2.5,"t":0.7},{"e":"C4","x":2.6,"t":2},{"e":"C4","x":2.7,"t":0.5},{"e":"C4","x":2.8,"t":-0.5},{"e":"C4","x":2.9,"t":0.5},{"e":"C4","x":3,"t":2.6},{"e":"C4","x":3.1,"t":0.8},{"e":"C4","x":3.2,"t":2.7},{"e":"C4","x":3.3,"t":0.4},{"e":"C4","x":3.4,"t":1.4},
{"e":"T4","x":1.1,"t":-1.4},{"e":"T4","x":1.2,"t":-1.4},{"e":"T4","x":1.3,"t":-1.4},{"e":"T4","x":1.4,"t":-2},{"e":"T4","x":1.5,"t":-1.4},{"e":"T4","x":1.6,"t":-0.6},{"e":"T4","x":1.7,"t":0.4},{"e":"T4","x":1.8,"t":2.2},{"e":"T4","x":1.9,"t":1.4},{"e":"T4","x":2,"t":1.3},{"e":"T4","x":2.1,"t":3.2},{"e":"T4","x":2.2,"t":2.5},{"e":"T4","x":2.3,"t":-1.7},{"e":"T4","x":2.4,"t":-0.8},{"e":"T4","x":2.5,"t":-0.4},{"e":"T4","x":2.6,"t":3.6},{"e":"T4","x":2.7,"t":0.3},{"e":"T4","x":2.8,"t":0.4},{"e":"T4","x":2.9,"t":-1.3},{"e":"T4","x":3,"t":1.4},{"e":"T4","x":3.1,"t":3.3},{"e":"T4","x":3.2,"t":0.5},{"e":"T4","x":3.3,"t":0.5},{"e":"T4","x":3.4,"t":-0.5},
{"e":"T5","x":1.1,"t":-1.4},{"e":"T5","x":1.2,"t":0},{"e":"T5","x":1.3,"t":-1.5},{"e":"T5","x":1.4,"t":-0.9},{"e":"T5","x":1.5,"t":-1.5},{"e":"T5","x":1.6,"t":-0.9},{"e":"T5","x":1.7,"t":1.2},{"e":"T5","x":1.8,"t":0.7},{"e":"T5","x":1.9,"t":-0.9},{"e":"T5","x":2,"t":1.3},{"e":"T5","x":2.1,"t":4.2},{"e":"T5","x":2.2,"t":3.3},{"e":"T5","x":2.3,"t":0.7},{"e":"T5","x":2.4,"t":0.4},{"e":"T5","x":2.5,"t":1.4},{"e":"T5","x":2.6,"t":0.9},{"e":"T5","x":2.7,"t":1.9},{"e":"T5","x":2.8,"t":1.3},{"e":"T5","x":2.9,"t":2.4,"s":1},{"e":"T5","x":3,"t":1.3},{"e":"T5","x":3.1,"t":0.5},{"e":"T5","x":3.2,"t":0.3},{"e":"T5","x":3.3,"t":0.3},{"e":"T5","x":3.4,"t":-1.4},
{"e":"P3","x":1.1,"t":-0.9},{"e":"P3","x":1.2,"t":0.4},{"e":"P3","x":1.3,"t":-1.5},{"e":"P3","x":1.4,"t":-0.6},{"e":"P3","x":1.5,"t":0},{"e":"P3","x":1.6,"t":-0.9},{"e":"P3","x":1.7,"t":-1.4},{"e":"P3","x":1.8,"t":1},{"e":"P3","x":1.9,"t":0.5},{"e":"P3","x":2,"t":2.4},{"e":"P3","x":2.1,"t":-0.6},{"e":"P3","x":2.2,"t":-0.6},{"e":"P3","x":2.3,"t":-0.6},{"e":"P3","x":2.4,"t":-0.7},{"e":"P3","x":2.5,"t":-0.4},{"e":"P3","x":2.6,"t":-0.4},{"e":"P3","x":2.7,"t":0.3},{"e":"P3","x":2.8,"t":0.8},{"e":"P3","x":2.9,"t":2.3,"s":1},{"e":"P3","x":3,"t":0.4},{"e":"P3","x":3.1,"t":-0.9},{"e":"P3","x":3.2,"t":0.8},{"e":"P3","x":3.3,"t":-0.5},{"e":"P3","x":3.4,"t":-1.3},
{"e":"PZ","x":1.1,"t":1.8},{"e":"PZ","x":1.2,"t":-0.9},{"e":"PZ","x":1.3,"t":-1},{"e":"PZ","x":1.4,"t":-2.8},{"e":"PZ","x":1.5,"t":0},{"e":"PZ","x":1.6,"t":0},{"e":"PZ","x":1.7,"t":-1.3},{"e":"PZ","x":1.8,"t":1.3},{"e":"PZ","x":1.9,"t":0.5},{"e":"PZ","x":2,"t":2.1},{"e":"PZ","x":2.1,"t":0.2},{"e":"PZ","x":2.2,"t":-0.5},{"e":"PZ","x":2.3,"t":1.3},{"e":"PZ","x":2.4,"t":0.9},{"e":"PZ","x":2.5,"t":0.5},{"e":"PZ","x":2.6,"t":1.5},{"e":"PZ","x":2.7,"t":1.6},{"e":"PZ","x":2.8,"t":0.4},{"e":"PZ","x":2.9,"t":2.4,"s":1},{"e":"PZ","x":3,"t":0.2},{"e":"PZ","x":3.1,"t":0.4},{"e":"PZ","x":3.2,"t":-0.5},{"e":"PZ","x":3.3,"t":0.8},{"e":"PZ","x":3.4,"t":-1.8},
{"e":"P4","x":1.1,"t":1.3},{"e":"P4","x":1.2,"t":0.3},{"e":"P4","x":1.3,"t":-0.9},{"e":"P4","x":1.4,"t":0},{"e":"P4","x":1.5,"t":0},{"e":"P4","x":1.6,"t":-0.9},{"e":"P4","x":1.7,"t":-1.4},{"e":"P4","x":1.8,"t":-0.6},{"e":"P4","x":1.9,"t":0.4},{"e":"P4","x":2,"t":2.4},{"e":"P4","x":2.1,"t":0.8},{"e":"P4","x":2.2,"t":0.8},{"e":"P4","x":2.3,"t":1.2},{"e":"P4","x":2.4,"t":0.4},{"e":"P4","x":2.5,"t":1.3},{"e":"P4","x":2.6,"t":1.3},{"e":"P4","x":2.7,"t":1.4},{"e":"P4","x":2.8,"t":2.1},{"e":"P4","x":2.9,"t":2.1},{"e":"P4","x":3,"t":2},{"e":"P4","x":3.1,"t":-0.3},{"e":"P4","x":3.2,"t":-1.3},{"e":"P4","x":3.3,"t":0.3},{"e":"P4","x":3.4,"t":0.4},
{"e":"T6","x":1.1,"t":-1.3},{"e":"T6","x":1.2,"t":-1.3},{"e":"T6","x":1.3,"t":-1.3},{"e":"T6","x":1.4,"t":-1.3},{"e":"T6","x":1.5,"t":-0.6},{"e":"T6","x":1.6,"t":-1.9},{"e":"T6","x":1.7,"t":0.6},{"e":"T6","x":1.8,"t":0.6},{"e":"T6","x":1.9,"t":-0.4},{"e":"T6","x":2,"t":1.3},{"e":"T6","x":2.1,"t":1.9},{"e":"T6","x":2.2,"t":-0.6},{"e":"T6","x":2.3,"t":0.5},{"e":"T6","x":2.4,"t":1.4},{"e":"T6","x":2.5,"t":1.2},{"e":"T6","x":2.6,"t":1.9},{"e":"T6","x":2.7,"t":1.3},{"e":"T6","x":2.8,"t":2.5},{"e":"T6","x":2.9,"t":1.5},{"e":"T6","x":3,"t":0.9},{"e":"T6","x":3.1,"t":0.8},{"e":"T6","x":3.2,"t":0.8},{"e":"T6","x":3.3,"t":0.7},{"e":"T6","x":3.4,"t":0.6},
{"e":"O1","x":1.1,"t":0.3},{"e":"O1","x":1.2,"t":-2.2},{"e":"O1","x":1.3,"t":-2.2},{"e":"O1","x":1.4,"t":-0.6},{"e":"O1","x":1.5,"t":-0.6},{"e":"O1","x":1.6,"t":-1.5},{"e":"O1","x":1.7,"t":0.7},{"e":"O1","x":1.8,"t":1.4},{"e":"O1","x":1.9,"t":1.5},{"e":"O1","x":2,"t":1.5},{"e":"O1","x":2.1,"t":0.5},{"e":"O1","x":2.2,"t":-1.5},{"e":"O1","x":2.3,"t":0.4},{"e":"O1","x":2.4,"t":-1.5},{"e":"O1","x":2.5,"t":0.8},{"e":"O1","x":2.6,"t":2.2},{"e":"O1","x":2.7,"t":1.5},{"e":"O1","x":2.8,"t":2.1,"s":1},{"e":"O1","x":2.9,"t":2.5,"s":1},{"e":"O1","x":3,"t":2.6,"s":1},{"e":"O1","x":3.1,"t":1.2},{"e":"O1","x":3.2,"t":1.2},{"e":"O1","x":3.3,"t":1.2},{"e":"O1","x":3.4,"t":0.6},
{"e":"O2","x":1.1,"t":0.6},{"e":"O2","x":1.2,"t":-0.4},{"e":"O2","x":1.3,"t":-1.5},{"e":"O2","x":1.4,"t":-2.2},{"e":"O2","x":1.5,"t":-1.6},{"e":"O2","x":1.6,"t":1.6},{"e":"O2","x":1.7,"t":1.2},{"e":"O2","x":1.8,"t":-0.6},{"e":"O2","x":1.9,"t":0.7},{"e":"O2","x":2,"t":0.4},{"e":"O2","x":2.1,"t":0.9},{"e":"O2","x":2.2,"t":2.3},{"e":"O2","x":2.3,"t":0.4},{"e":"O2","x":2.4,"t":2.4},{"e":"O2","x":2.5,"t":1.3},{"e":"O2","x":2.6,"t":1.8},{"e":"O2","x":2.7,"t":4.8},{"e":"O2","x":2.8,"t":1.3},{"e":"O2","x":2.9,"t":2.2,"s":1},{"e":"O2","x":3,"t":2.1,"s":1},{"e":"O2","x":3.1,"t":0.4},{"e":"O2","x":3.2,"t":2.1},{"e":"O2","x":3.3,"t":1.6},{"e":"O2","x":3.4,"t":-0.7}
]
},
"hconcat":[
{
"title":{"text":"A","anchor":"start","frame":"group","dx":-64,"offset":9,"fontSize":18.5,"fontWeight":"bold"},
"bounds":"flush","spacing":9,
"resolve":{"scale":{"color":"independent"}},
"vconcat":[
{"width":424,"height":8,"view":{"stroke":null},
"title":{"text":"Instantaneous frequency (IF) with trial selection","anchor":"middle","frame":"group","offset":12,"fontWeight":"bold"},
"data":{"values":[{}]},
"mark":{"type":"rule","opacity":0},
"encoding":{}},
{"width":424,"height":171,
"data":{"name":"lA"},
"layer":[
{"mark":{"type":"errorbar","ticks":true,"size":7,"thickness":1.4},
"encoding":{
"x":{"field":"x","type":"quantitative","scale":{"domain":[1.1,3.4],"nice":false,"zero":false},"axis":{"values":[1.2,1.4,1.6,1.8,2,2.2,2.4,2.6,2.8,3,3.2,3.4],"labels":false,"tickSize":-4,"title":null}},
"y":{"field":"m","type":"quantitative","scale":{"domain":[0,15.15],"nice":false,"zero":false,"clamp":true},"axis":{"values":[0,5,10,15],"tickSize":-4,"labelPadding":7,"title":"Occurrence (%)","titleX":-33}},
"yError":{"field":"e"},
"color":{"field":"g","type":"nominal","scale":{"domain":["BF","MW"],"range":["#A2142F","#0072BD"]}}}},
{"mark":{"type":"line","strokeWidth":3},
"encoding":{
"x":{"field":"x","type":"quantitative","axis":null},
"y":{"field":"m","type":"quantitative","axis":null},
"color":{"field":"g","type":"nominal","legend":{"orient":"none","legendX":356,"legendY":2,"title":null,"symbolType":"M-1,0H3","symbolSize":225,"symbolStrokeWidth":3,"labelFontSize":12.5,"strokeColor":"#aaaaaa","fillColor":"white","padding":3,"rowPadding":1,"labelOffset":19}}}},
{"mark":{"type":"line","opacity":0},
"encoding":{
"x":{"field":"x","type":"quantitative","axis":{"orient":"top","values":[1.2,1.4,1.6,1.8,2,2.2,2.4,2.6,2.8,3,3.2,3.4],"labels":false,"tickSize":-4,"title":null}},
"y":{"field":"m","type":"quantitative","axis":{"orient":"right","values":[0,5,10,15],"labels":false,"tickSize":-4,"title":null}}}}
],
"resolve":{"axis":{"x":"independent","y":"independent"}}
},
{"width":427,"height":234,
"data":{"name":"hA"},
"transform":[{"bin":{"step":0.1,"extent":[1.05,3.45],"nice":false},"field":"x","as":["x0","x1"]}],
"layer":[
{"mark":{"type":"rect","clip":true},
"encoding":{
"x":{"field":"x0","type":"quantitative","scale":{"domain":[1.1,3.4],"nice":false,"zero":false},"axis":{"values":[1.2,1.4,1.6,1.8,2,2.2,2.4,2.6,2.8,3,3.2],"labels":false,"tickSize":-3,"title":null}},
"x2":{"field":"x1"},
"y":{"field":"e","type":"ordinal","scale":{"domain":["FP1","FP2","F7","F3","Fz","F4","F8","T3","C3","Cz","C4","T4","T5","P3","PZ","P4","T6","O1","O2"],"paddingInner":0,"paddingOuter":0},"axis":{"tickSize":-3,"labelPadding":7.5,"title":"Electrode","titleX":-41}},
"color":{"field":"t","type":"quantitative","scale":{"domain":[-5,-3.889,-2.778,-1.667,-0.556,0.556,1.667,2.778,3.889,5],"range":["#3E26A8","#4747EB","#3E6FFF","#2796EB","#08B5D0","#31C69F","#81CC59","#DCBD29","#FCCF30","#F9FB15"],"interpolate":"rgb"},
"legend":{"orient":"none","legendX":439,"legendY":59,"direction":"vertical","gradientLength":136,"gradientThickness":15,"values":[-5,0,5],"title":null,"labelFontSize":12.5,"labelOffset":4,"gradientStrokeColor":"#666","gradientStrokeWidth":0.5,"padding":0}}}},
{"mark":{"type":"rect","opacity":0},
"encoding":{
"x":{"field":"x0","type":"quantitative","axis":{"orient":"top","values":[1.2,1.4,1.6,1.8,2,2.2,2.4,2.6,2.8,3,3.2],"labels":false,"tickSize":-3,"title":null}},
"x2":{"field":"x1"},
"y":{"field":"e","type":"ordinal","axis":{"orient":"right","labels":false,"tickSize":-3,"title":"t-value(MW-BF)","titleAngle":270,"titleX":53,"titleY":128,"titleAlign":"center","titleBaseline":"middle"}}}}
],
"resolve":{"axis":{"x":"independent","y":"independent"}}
},
{"width":427,"height":96,
"view":{"fill":"#1DBEB8"},
"title":{"text":"p cluster < 0.025","orient":"bottom","anchor":"start","frame":"group","dx":2,"offset":-13,"fontStyle":"italic","fontWeight":"normal","fontSize":14.5},
"data":{"name":"hA"},
"transform":[{"filter":"datum.s == 1"},{"bin":{"step":0.1,"extent":[1.05,3.45],"nice":false},"field":"x","as":["x0","x1"]}],
"layer":[
{"mark":{"type":"rect","clip":true},
"encoding":{
"x":{"field":"x0","type":"quantitative","scale":{"domain":[1.1,3.4],"nice":false,"zero":false},"axis":{"values":[1.2,1.4,1.6,1.8,2,2.2,2.4,2.6,2.8,3,3.2,3.4],"format":"~g","tickSize":-3,"labelPadding":14,"title":"Alpha:theta ratio","titleY":34,"titleBaseline":"middle","titleFontSize":14.5}},
"x2":{"field":"x1"},
"y":{"field":"e","type":"ordinal","scale":{"domain":["FP1","FP2","F7","F3","Fz","F4","F8","T3","C3","Cz","C4","T4","T5","P3","PZ","P4","T6","O1","O2"],"paddingInner":0,"paddingOuter":0},"axis":{"labels":false,"tickSize":-3,"title":null}},
"color":{"field":"t","type":"quantitative","scale":{"domain":[-5,-3.889,-2.778,-1.667,-0.556,0.556,1.667,2.778,3.889,5],"range":["#3E26A8","#4747EB","#3E6FFF","#2796EB","#08B5D0","#31C69F","#81CC59","#DCBD29","#FCCF30","#F9FB15"],"interpolate":"rgb"},"legend":null}}},
{"mark":{"type":"rect","opacity":0},
"encoding":{
"x":{"field":"x0","type":"quantitative","axis":{"orient":"top","values":[1.2,1.4,1.6,1.8,2,2.2,2.4,2.6,2.8,3,3.2,3.4],"labels":false,"tickSize":-3,"title":null}},
"x2":{"field":"x1"},
"y":{"field":"e","type":"ordinal","axis":{"orient":"right","labels":false,"tickSize":-3,"title":null}}}}
],
"resolve":{"axis":{"x":"independent","y":"independent"}}
}
]
},
{
"title":{"text":"B","anchor":"start","frame":"group","dx":-54,"offset":11,"fontSize":18.5,"fontWeight":"bold"},
"bounds":"flush","spacing":9,
"resolve":{"scale":{"color":"independent"}},
"vconcat":[
{"width":424,"height":1,"view":{"stroke":null},
"title":{"text":"Find peaks (FP) with amplitude threshold","anchor":"middle","frame":"group","offset":10,"fontWeight":"bold"},
"data":{"values":[{}]},
"mark":{"type":"rule","opacity":0},
"encoding":{}},
{"width":424,"height":177,
"data":{"name":"lB"},
"layer":[
{"mark":{"type":"errorbar","ticks":true,"size":7,"thickness":1.4},
"encoding":{
"x":{"field":"x","type":"quantitative","scale":{"domain":[1.1,3.4],"nice":false,"zero":false},"axis":{"values":[1.2,1.4,1.6,1.8,2,2.2,2.4,2.6,2.8,3,3.2,3.4],"labels":false,"tickSize":-4,"title":null}},
"y":{"field":"m","type":"quantitative","scale":{"domain":[0,11.25],"nice":false,"zero":false,"clamp":true},"axis":{"values":[0,2,4,6,8,10],"tickSize":-4,"labelPadding":7,"title":"Occurrence (%)","titleX":-33.5}},
"yError":{"field":"e"},
"color":{"field":"g","type":"nominal","scale":{"domain":["BF","MW"],"range":["#A2142F","#0072BD"]}}}},
{"mark":{"type":"line","strokeWidth":3},
"encoding":{
"x":{"field":"x","type":"quantitative","axis":null},
"y":{"field":"m","type":"quantitative","axis":null},
"color":{"field":"g","type":"nominal","legend":{"orient":"none","legendX":354,"legendY":6,"title":null,"symbolType":"M-1,0H3","symbolSize":225,"symbolStrokeWidth":3,"labelFontSize":12.5,"strokeColor":"#555555","fillColor":"white","padding":3,"rowPadding":1,"labelOffset":19}}}},
{"mark":{"type":"line","opacity":0},
"encoding":{
"x":{"field":"x","type":"quantitative","axis":{"orient":"top","values":[1.2,1.4,1.6,1.8,2,2.2,2.4,2.6,2.8,3,3.2,3.4],"labels":false,"tickSize":-4,"title":null}},
"y":{"field":"m","type":"quantitative","axis":{"orient":"right","values":[0,2,4,6,8,10],"labels":false,"tickSize":-4,"title":null}}}}
],
"resolve":{"axis":{"x":"independent","y":"independent"}}
},
{"width":427,"height":234,
"data":{"name":"hB"},
"transform":[{"bin":{"step":0.1,"extent":[1.05,3.45],"nice":false},"field":"x","as":["x0","x1"]}],
"layer":[
{"mark":{"type":"rect","clip":true},
"encoding":{
"x":{"field":"x0","type":"quantitative","scale":{"domain":[1.1,3.4],"nice":false,"zero":false},"axis":{"values":[1.4,2,2.4,2.8],"labels":false,"tickSize":-3,"title":null}},
"x2":{"field":"x1"},
"y":{"field":"e","type":"ordinal","scale":{"domain":["FP1","FP2","F7","F3","Fz","F4","F8","T3","C3","Cz","C4","T4","T5","P3","PZ","P4","T6","O1","O2"],"paddingInner":0,"paddingOuter":0},"axis":{"tickSize":-3,"labelPadding":7.5,"title":"Electrode","titleX":-39}},
"color":{"field":"t","type":"quantitative","scale":{"domain":[-5,-3.889,-2.778,-1.667,-0.556,0.556,1.667,2.778,3.889,5],"range":["#3E26A8","#4747EB","#3E6FFF","#2796EB","#08B5D0","#31C69F","#81CC59","#DCBD29","#FCCF30","#F9FB15"],"interpolate":"rgb"},
"legend":{"orient":"none","legendX":436,"legendY":60,"direction":"vertical","gradientLength":136,"gradientThickness":15,"values":[-5,0,5],"title":null,"labelFontSize":12.5,"labelOffset":4,"gradientStrokeColor":"#666","gradientStrokeWidth":0.5,"padding":0}}}},
{"mark":{"type":"rect","opacity":0},
"encoding":{
"x":{"field":"x0","type":"quantitative","axis":{"orient":"top","values":[1.4,2,2.4,2.8],"labels":false,"tickSize":-3,"title":null}},
"x2":{"field":"x1"},
"y":{"field":"e","type":"ordinal","axis":{"orient":"right","labels":false,"tickSize":-3,"title":"t-value(MW-BF)","titleAngle":270,"titleX":51,"titleY":128,"titleAlign":"center","titleBaseline":"middle"}}}}
],
"resolve":{"axis":{"x":"independent","y":"independent"}}
},
{"width":427,"height":99,
"view":{"fill":"#1DBEB8"},
"title":{"text":"p cluster < 0.025","orient":"bottom","anchor":"start","frame":"group","dx":6,"offset":-13,"fontStyle":"italic","fontWeight":"normal","fontSize":14.5},
"data":{"name":"hB"},
"transform":[{"filter":"datum.s == 1"},{"bin":{"step":0.1,"extent":[1.05,3.45],"nice":false},"field":"x","as":["x0","x1"]}],
"layer":[
{"mark":{"type":"rect","clip":true},
"encoding":{
"x":{"field":"x0","type":"quantitative","scale":{"domain":[1.1,3.4],"nice":false,"zero":false},"axis":{"values":[1.1,1.3,1.5,1.7,1.9,2.1,2.3,2.5,2.7,2.9,3.1,3.3],"format":"~g","tickSize":-3,"labelPadding":14,"title":"Alpha:theta ratio","titleY":34,"titleBaseline":"middle","titleFontSize":14.5}},
"x2":{"field":"x1"},
"y":{"field":"e","type":"ordinal","scale":{"domain":["FP1","FP2","F7","F3","Fz","F4","F8","T3","C3","Cz","C4","T4","T5","P3","PZ","P4","T6","O1","O2"],"paddingInner":0,"paddingOuter":0},"axis":{"labels":false,"tickSize":-3,"title":null}},
"color":{"field":"t","type":"quantitative","scale":{"domain":[-5,-3.889,-2.778,-1.667,-0.556,0.556,1.667,2.778,3.889,5],"range":["#3E26A8","#4747EB","#3E6FFF","#2796EB","#08B5D0","#31C69F","#81CC59","#DCBD29","#FCCF30","#F9FB15"],"interpolate":"rgb"},"legend":null}}},
{"mark":{"type":"rect","opacity":0},
"encoding":{
"x":{"field":"x0","type":"quantitative","axis":{"orient":"top","values":[1.1,1.3,1.5,1.7,1.9,2.1,2.3,2.5,2.7,2.9,3.1,3.3],"labels":false,"tickSize":-3,"title":null}},
"x2":{"field":"x1"},
"y":{"field":"e","type":"ordinal","axis":{"orient":"right","labels":false,"tickSize":-3,"title":null}}}}
],
"resolve":{"axis":{"x":"independent","y":"independent"}}
}
]
}
],
"spacing":44,
"resolve":{"scale":{"color":"independent"}},
"config":{
"font":"Liberation Sans",
"view":{"stroke":"#4d4d4d","strokeWidth":0.8},
"axis":{"grid":false,"domain":false,"zindex":1,"minExtent":0,"labelFlush":false,"labelFont":"Liberation Sans","labelFontSize":12.5,"labelColor":"#262626","tickColor":"#333333","tickWidth":0.8,"titleFont":"Liberation Sans","titleFontSize":13.5,"titleFontWeight":"normal","titleColor":"#262626"},
"title":{"font":"Liberation Sans","fontSize":14.5,"color":"#000000"},
"legend":{"labelFont":"Liberation Sans","labelColor":"#262626"}
}
}
